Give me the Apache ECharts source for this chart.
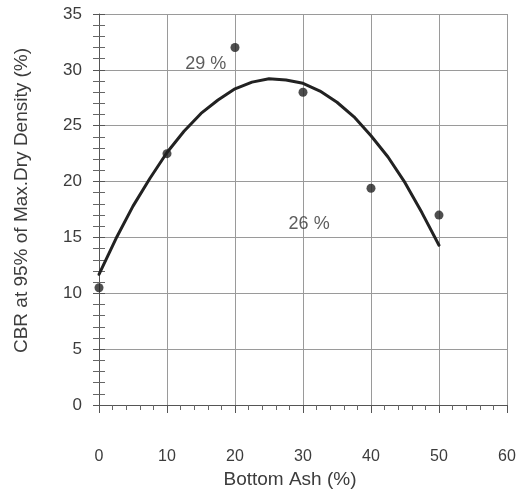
<!DOCTYPE html>
<html>
<head>
<meta charset="utf-8">
<script src="https://cdn.jsdelivr.net/npm/echarts@6/dist/echarts.min.js"></script>
<style>html,body{margin:0;padding:0;background:#fff;}#c{width:529px;height:494px;}</style>
</head>
<body>
<div id="c"></div>
<script>
// Measured points: Bottom Ash (%) vs CBR (%)
const ashPoints = [0, 10, 20, 30, 40, 50];
const cbrPoints = [10.5, 22.5, 32, 28, 19.4, 17];
// Fitted trend curve
const curveX = [0, 2.5, 5, 7.5, 10, 12.5, 15, 17.5, 20, 22.5, 25, 27.5, 30, 32.5, 35, 37.5, 40, 42.5, 45, 47.5, 50];
const curveY = [11.7, 14.9, 17.8, 20.3, 22.6, 24.5, 26.1, 27.3, 28.3, 28.9, 29.2, 29.1, 28.8, 28.1, 27.1, 25.8, 24.1, 22.2, 19.9, 17.2, 14.3];
// Annotations
const noteText = ['29 %', '26 %'];
const noteX = [15.7, 30.9];
const noteY = [30.5, 16.2];
const xTicks = [0, 10, 20, 30, 40, 50, 60];
const yTicks = [0, 5, 10, 15, 20, 25, 30, 35];

const FONT = 'Liberation Sans, Arial, sans-serif';
const TXT = '#3c3c3c';
const chart = echarts.init(document.getElementById('c'), null, {renderer: 'canvas'});
chart.setOption({
  backgroundColor: '#fff',
  animation: false,
  grid: {left: 99, right: 22, top: 14, bottom: 88, containLabel: false},
  xAxis: {
    type: 'value', min: xTicks[0], max: xTicks[xTicks.length - 1], interval: 10,
    name: 'Bottom Ash (%)', nameLocation: 'middle', nameGap: 65,
    nameTextStyle: {fontFamily: FONT, fontSize: 19, color: TXT, padding: [0, 26, 0, 0]},
    axisLine: {lineStyle: {color: '#555', width: 1}},
    axisTick: {show: true, inside: false, length: 8, lineStyle: {color: '#555'}},
    minorTick: {show: true, splitNumber: 5, length: 5, lineStyle: {color: '#666'}},
    axisLabel: {fontFamily: FONT, fontSize: 16, color: TXT, margin: 44},
    splitLine: {show: true, lineStyle: {color: '#9a9a9a', width: 1}}
  },
  yAxis: [{
    type: 'value', min: yTicks[0], max: yTicks[yTicks.length - 1], interval: 5,
    name: 'CBR at 95% of Max.Dry Density (%)', nameLocation: 'middle', nameGap: 68,
    nameTextStyle: {fontFamily: FONT, fontSize: 19, color: TXT, padding: [0, 0, 0, 18]},
    axisLine: {show: true, lineStyle: {color: '#555', width: 1}},
    axisTick: {show: true, inside: false, length: 6, lineStyle: {color: '#555'}},
    minorTick: {show: true, splitNumber: 5, length: 6, lineStyle: {color: '#666'}},
    axisLabel: {fontFamily: FONT, fontSize: 17, color: TXT, margin: 17},
    splitLine: {show: true, lineStyle: {color: '#9a9a9a', width: 1}}
  }, {
    type: 'value', min: yTicks[0], max: yTicks[yTicks.length - 1], interval: 5, position: 'left',
    axisLine: {show: false},
    axisTick: {show: true, inside: true, length: 6, lineStyle: {color: '#555'}},
    minorTick: {show: true, splitNumber: 5, length: 6, lineStyle: {color: '#666'}},
    axisLabel: {show: false},
    splitLine: {show: false}
  }],
  series: [{
    type: 'line',
    data: curveX.map((x, i) => [x, curveY[i]]),
    smooth: false, showSymbol: false, symbol: 'none',
    lineStyle: {color: '#222', width: 3, join: 'round', cap: 'round'},
    z: 3
  }, {
    type: 'scatter',
    data: ashPoints.map((x, i) => [x, cbrPoints[i]]),
    symbol: 'circle', symbolSize: 9,
    itemStyle: {color: '#222'},
    z: 4
  }, {
    type: 'scatter',
    data: noteX.map((x, i) => ({value: [x, noteY[i]], name: noteText[i]})),
    symbolSize: 0,
    label: {show: true, position: 'inside', formatter: p => p.name,
      fontFamily: FONT, fontSize: 18, color: '#333'},
    silent: true,
    z: 5
  }]
});
</script>
</body>
</html>
